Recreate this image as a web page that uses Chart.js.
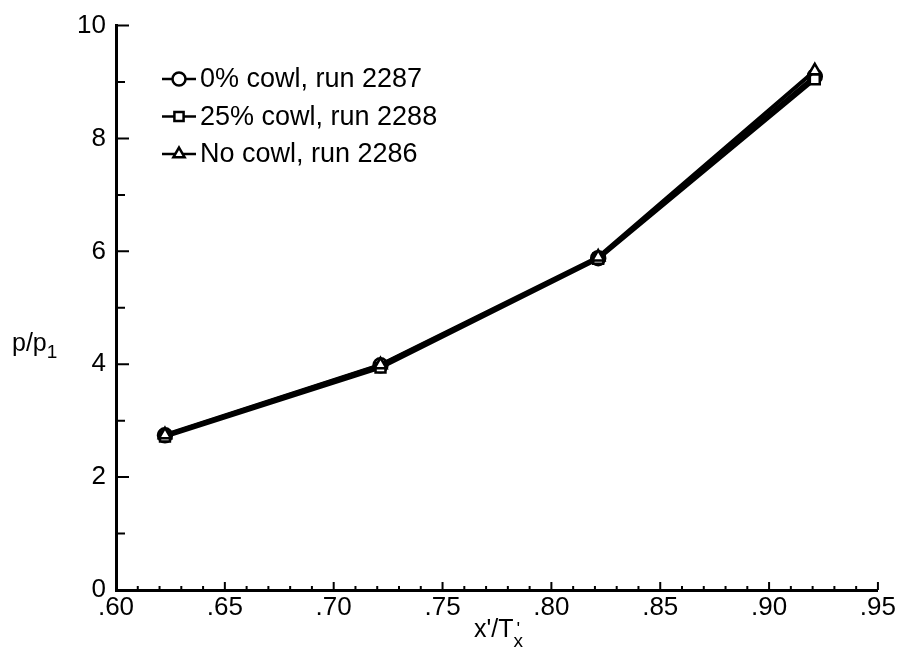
<!DOCTYPE html>
<html>
<head>
<meta charset="utf-8">
<script src="https://cdn.jsdelivr.net/npm/chart.js@4/dist/chart.umd.min.js"></script>
<style>
  body { margin: 0; background: #fff; }
  #wrap { position: relative; width: 898px; height: 653px; }
  .lbl { position: absolute; font-family: "Liberation Sans", Arial, sans-serif; font-size: 25px; color: #000; white-space: nowrap; }
  .lbl sub { font-size: 19px; vertical-align: -7px; }
  .stack { display: inline-block; vertical-align: -10px; line-height: 12px; font-size: 19px; text-align: center; }
</style>
</head>
<body>
<div id="wrap">
  <canvas id="c" width="898" height="653"></canvas>
  <div class="lbl" style="left:12px; top:328px;">p/p<sub>1</sub></div>
  <div class="lbl" style="left:474px; top:614px;">x'/T<span class="stack">'<br>x</span></div>
</div>
<script>
// значения
const xVals = [0.6225, 0.7215, 0.8215, 0.921];
const cowl0 = [2.74, 3.98, 5.88, 9.10];
const cowl25 = [2.72, 3.94, 5.87, 9.05];
const noCowl = [2.75, 3.99, 5.90, 9.20];
const seriesNames = ['0% cowl, run 2287', '25% cowl, run 2288', 'No cowl, run 2286'];
const markers = ['circle', 'rect', 'triangle'];

const FONT = '"Liberation Sans", Arial, sans-serif';

function toPoints(ys) {
    return xVals.map((x, i) => ({ x, y: ys[i] }));
}

// тики внутрь, как на оригинале
const inwardTicks = {
    id: 'inwardTicks',
    afterDraw(chart) {
        const ctx = chart.ctx;
        const xs = chart.scales.x, ys = chart.scales.y;
        ctx.save();
        ctx.strokeStyle = '#000';
        ctx.lineWidth = 2;
        ctx.beginPath();
        for (let i = 0; i <= 35; i++) {
            const px = xs.getPixelForValue(0.60 + i * 0.01);
            const len = i % 5 === 0 ? 8 : 4;
            ctx.moveTo(px, ys.bottom);
            ctx.lineTo(px, ys.bottom - len);
        }
        for (let i = 0; i <= 10; i++) {
            const py = ys.getPixelForValue(i);
            const len = i % 2 === 0 ? 13 : 9;
            ctx.moveTo(xs.left, py);
            ctx.lineTo(xs.left + len, py);
        }
        ctx.stroke();
        ctx.restore();
    }
};

// легенда: линия с маркером внутри области графика
const lineLegend = {
    id: 'lineLegend',
    afterDraw(chart) {
        const ctx = chart.ctx;
        ctx.save();
        seriesNames.forEach((name, i) => {
            const y = 79 + i * 37.5;
            const x0 = 162, x1 = 196;
            ctx.strokeStyle = '#000';
            ctx.lineWidth = 2.5;
            ctx.beginPath();
            ctx.moveTo(x0, y);
            ctx.lineTo(x1, y);
            ctx.stroke();
            ctx.fillStyle = '#fff';
            Chart.helpers.drawPoint(ctx, {
                pointStyle: markers[i], radius: 6.5, borderWidth: 2
            }, (x0 + x1) / 2, y);
            ctx.fillStyle = '#000';
            ctx.font = '27px ' + FONT;
            ctx.textBaseline = 'middle';
            ctx.fillText(name, 200, y + 1);
        });
        ctx.restore();
    }
};

const datasets = [cowl0, cowl25, noCowl].map((ys, i) => ({
    label: seriesNames[i],
    data: toPoints(ys),
    order: 3 - i,
    borderColor: '#000',
    borderWidth: 4,
    backgroundColor: '#fff',
    pointStyle: markers[i],
    pointRadius: 7,
    pointBorderWidth: 2.5,
    pointBorderColor: '#000',
    pointBackgroundColor: '#fff',
    tension: 0
}));

new Chart(document.getElementById('c'), {
    type: 'line',
    data: { datasets },
    options: {
        responsive: false,
        animation: false,
        layout: { padding: { top: 25, right: 20, left: 0, bottom: 0 } },
        plugins: { legend: { display: false }, tooltip: { enabled: false } },
        scales: {
            x: {
                type: 'linear',
                min: 0.60, max: 0.95,
                grid: { display: false, drawTicks: false },
                border: { display: true, color: '#000', width: 3 },
                ticks: {
                    stepSize: 0.05,
                    padding: 2,
                    color: '#000',
                    font: { family: FONT, size: 26 },
                    callback: v => v.toFixed(2).replace(/^0/, '')
                },
                afterFit: s => { s.height = 63; }
            },
            y: {
                min: 0, max: 10,
                grid: { display: false, drawTicks: false },
                border: { display: true, color: '#000', width: 3 },
                ticks: {
                    stepSize: 2,
                    padding: 10,
                    color: '#000',
                    font: { family: FONT, size: 26 }
                },
                afterFit: s => { s.width = 116; }
            }
        }
    },
    plugins: [inwardTicks, lineLegend]
});
</script>
</body>
</html>
